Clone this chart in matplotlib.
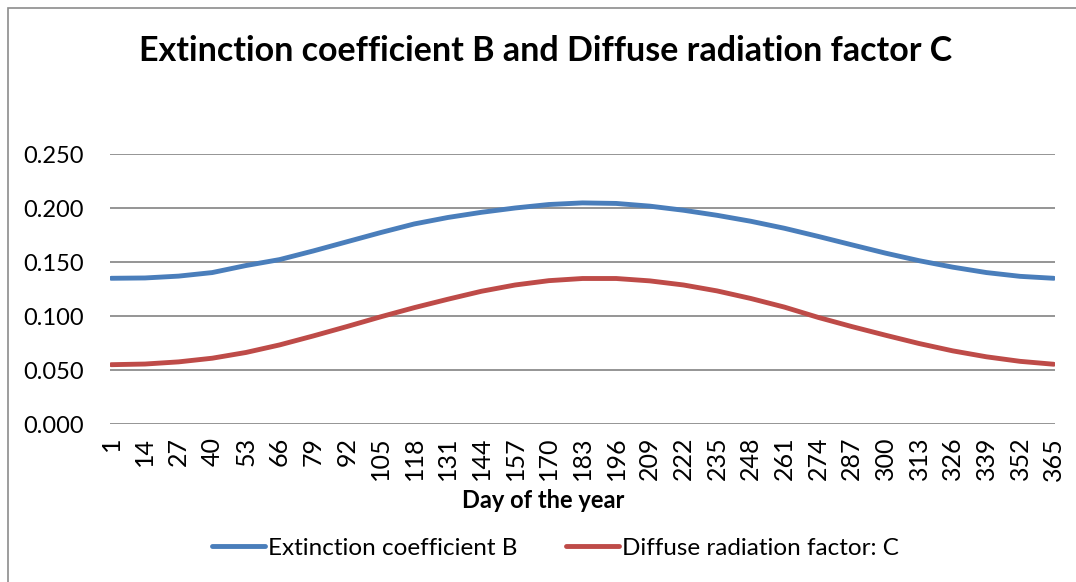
import matplotlib
matplotlib.use("Agg")
import matplotlib.pyplot as plt
from matplotlib.patches import Rectangle

days = [1, 14, 27, 40, 53, 66, 79, 92, 105, 118, 131, 144, 157, 170, 183,
        196, 209, 222, 235, 248, 261, 274, 287, 300, 313, 326, 339, 352, 365]
coef_B = [0.1352, 0.1355, 0.1372, 0.1405, 0.1470, 0.1525, 0.1605, 0.1690, 0.1775, 0.1855,
          0.1915, 0.1963, 0.2003, 0.2035, 0.2050, 0.2045, 0.2020, 0.1982, 0.1935, 0.1880,
          0.1815, 0.1740, 0.1662, 0.1585, 0.1515, 0.1455, 0.1405, 0.1370, 0.1352]
factor_C = [0.0552, 0.0558, 0.0578, 0.0612, 0.0665, 0.0735, 0.0818, 0.0905, 0.0995, 0.1080,
            0.1158, 0.1232, 0.1290, 0.1330, 0.1350, 0.1350, 0.1328, 0.1290, 0.1235, 0.1165,
            0.1085, 0.0990, 0.0905, 0.0825, 0.0748, 0.0680, 0.0625, 0.0583, 0.0556]
y_ticks = [0.0, 0.05, 0.10, 0.15, 0.20, 0.25]
title = "Extinction coefficient B and Diffuse radiation factor C"
x_label = "Day of the year"
label_B = "Extinction coefficient B"
label_C = "Diffuse radiation factor: C"

plt.rcParams['font.family'] = ['Lato', 'DejaVu Sans']

W, H = 1076, 582
fig = plt.figure(figsize=(W / 100, H / 100), dpi=100)
fig.patch.set_facecolor('white')

# chart-area border (left and top visible)
fig.patches.append(Rectangle((8 / W, -0.2), 1.5, 1.2 - 8 / H, transform=fig.transFigure,
                             fill=False, edgecolor='#8c8c8c', linewidth=1.2))

ax = fig.add_axes([110 / W, 1 - 424.3 / H, (1055 - 110) / W, (424.3 - 154.3) / H])
ax.set_facecolor('white')

ax.plot(days, coef_B, color='#4A7EBB', lw=3.5, solid_capstyle='round',
        solid_joinstyle='round', label=label_B, zorder=3)
ax.plot(days, factor_C, color='#BE4B48', lw=3.5, solid_capstyle='round',
        solid_joinstyle='round', label=label_C, zorder=3)

ax.set_xlim(0.5, 365.5)
ax.set_ylim(0, 0.25)
ax.set_yticks(y_ticks)
ax.set_yticklabels([f"{v:.3f}" for v in y_ticks])
ax.set_xticks(days)
ax.set_xticklabels([str(d) for d in days], rotation=90)
ax.grid(axis='y', color='#8c8c8c', lw=1.3)
ax.set_axisbelow(True)
for s in ax.spines.values():
    s.set_visible(False)
ax.tick_params(axis='both', length=0, colors='black')
ax.tick_params(axis='y', labelsize=17, pad=19)
ax.tick_params(axis='x', labelsize=18, pad=9)

fig.text(546 / W, 1 - 51 / H, title, ha='center', va='center', fontsize=24.5, fontweight='bold')
fig.text(543 / W, 1 - 500 / H, x_label, ha='center', va='center', fontsize=17, fontweight='bold')

leg = fig.legend(loc='center', bbox_to_anchor=(555 / W, 1 - 548 / H), ncol=2, frameon=False,
                 fontsize=17.5, handlelength=2.2, handletextpad=0.1, columnspacing=2.0)
for ln in leg.get_lines():
    ln.set_linewidth(3.5)

fig.savefig('out.png', dpi=100, facecolor='white')
